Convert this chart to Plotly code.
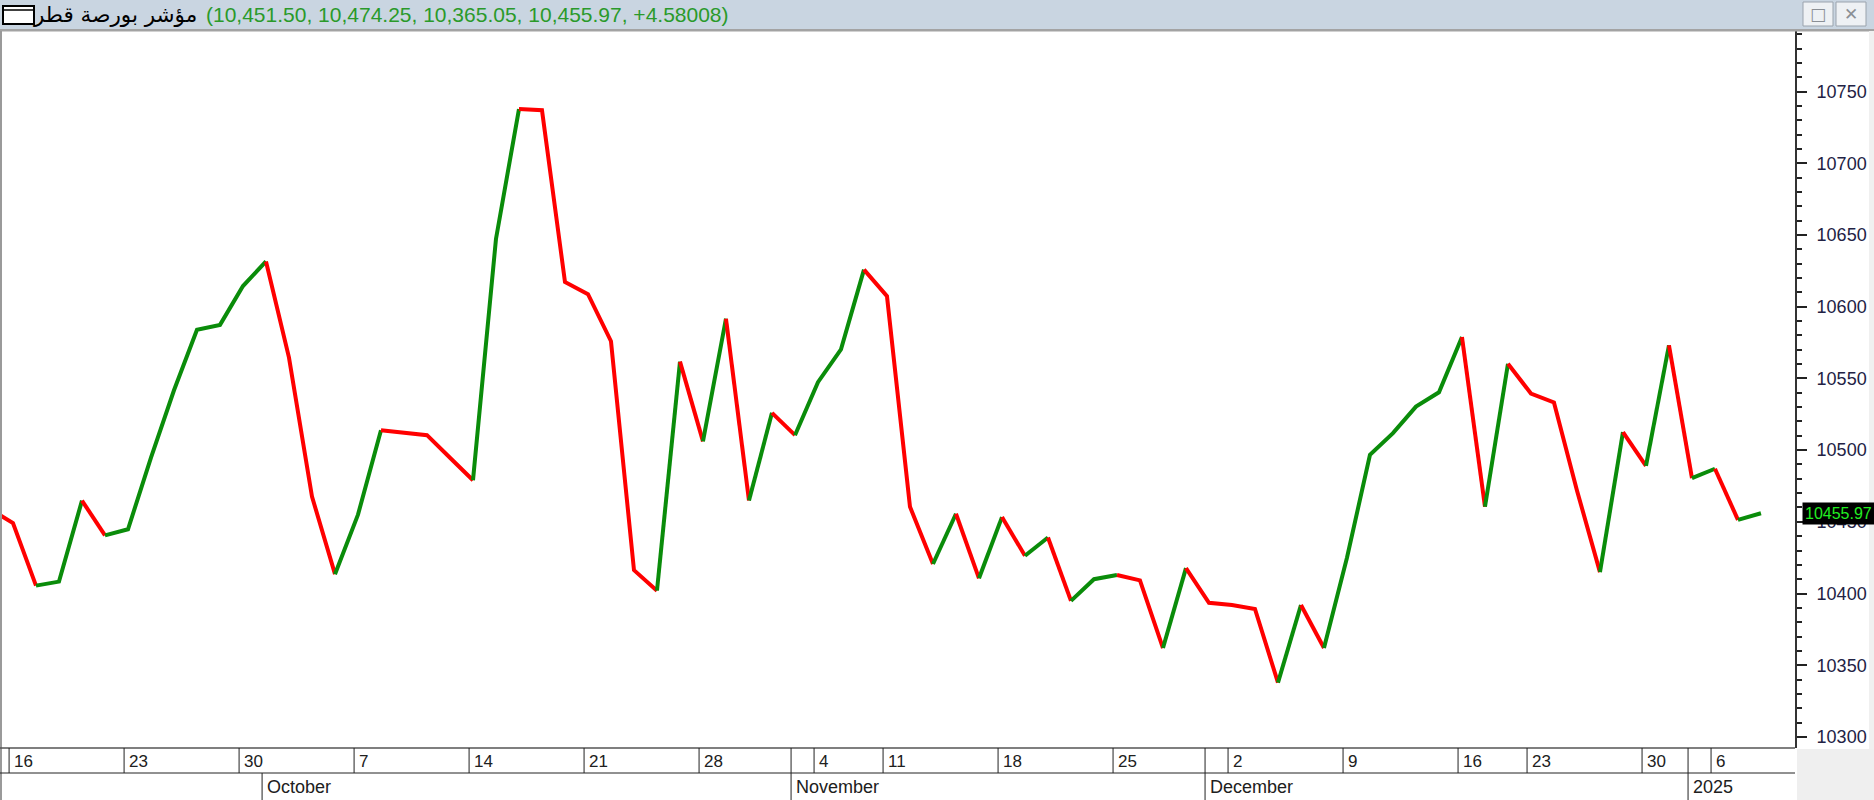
import datetime as dt
import plotly.graph_objects as go

# ---------------- data ----------------
dates = [
    "2024-09-15", "2024-09-16", "2024-09-17", "2024-09-18", "2024-09-19",
    "2024-09-22", "2024-09-23", "2024-09-24", "2024-09-25", "2024-09-26",
    "2024-09-29", "2024-09-30", "2024-10-01", "2024-10-02", "2024-10-03",
    "2024-10-06", "2024-10-07", "2024-10-08", "2024-10-09", "2024-10-10",
    "2024-10-13", "2024-10-14", "2024-10-15", "2024-10-16", "2024-10-17",
    "2024-10-20", "2024-10-21", "2024-10-22", "2024-10-23", "2024-10-24",
    "2024-10-27", "2024-10-28", "2024-10-29", "2024-10-30", "2024-10-31",
    "2024-11-03", "2024-11-04", "2024-11-05", "2024-11-06",
    "2024-11-11", "2024-11-12", "2024-11-13", "2024-11-14",
    "2024-11-17", "2024-11-18", "2024-11-19", "2024-11-20", "2024-11-21",
    "2024-11-24", "2024-11-25", "2024-11-26", "2024-11-27", "2024-11-28",
    "2024-12-01", "2024-12-02", "2024-12-03", "2024-12-04", "2024-12-05",
    "2024-12-08", "2024-12-09", "2024-12-10", "2024-12-11", "2024-12-12",
    "2024-12-15", "2024-12-16", "2024-12-17",
    "2024-12-22", "2024-12-23", "2024-12-24", "2024-12-25", "2024-12-26",
    "2024-12-29", "2024-12-30", "2024-12-31",
    "2025-01-05", "2025-01-06", "2025-01-07", "2025-01-08",
]
closes = [
    10459.0, 10449.1, 10405.5, 10408.3, 10464.8,
    10440.5, 10444.8, 10494.7, 10541.7, 10583.9,
    10587.3, 10614.4, 10631.5, 10564.5, 10467.6,
    10413.5, 10455.0, 10513.8, 10511.8, 10510.4,
    10494.7, 10479.0, 10647.2, 10737.8, 10737.0,
    10617.2, 10608.7, 10575.9, 10416.3, 10402.0,
    10561.7, 10506.1, 10591.6, 10464.8, 10526.0,
    10510.4, 10547.4, 10570.2, 10625.8,
    10607.3, 10460.5, 10420.6, 10455.6,
    10410.6, 10453.3, 10426.3, 10439.1, 10394.9,
    10410.0, 10412.9, 10409.2, 10362.0, 10417.7,
    10393.5, 10392.0, 10389.2, 10337.9, 10392.0,
    10362.0, 10424.9, 10496.7, 10511.8, 10530.3,
    10540.3, 10578.8, 10460.5,
    10560.2, 10539.4, 10533.2, 10471.9, 10414.9,
    10512.6, 10489.0, 10573.1,
    10480.4, 10487.0, 10451.39, 10455.97,
]
title_name = "مؤشر بورصة قطر"
title_values = "(10,451.50, 10,474.25, 10,365.05, 10,455.97, +4.58008)"
y_ticks = [10300, 10350, 10400, 10450, 10500, 10550, 10600, 10650, 10700, 10750]
month_names = ["January", "February", "March", "April", "May", "June", "July",
               "August", "September", "October", "November", "December"]

# ---------------- geometry / style ----------------
FW, FH = 1874, 800
L, R, T, B = 2, 79, 31, 52
W, H = FW - L - R, FH - T - B
X_RANGE = [0.522, 78.48]
Y_RANGE = [10292.3, 10792.2]
GREEN = "#0a8c0a"
RED = "#ff0000"
SEP = -0.17  # separator offset (bars)


def xp(px):
    return (px - L) / W


def yp(py):
    return (FH - B - py) / H


d = [dt.date.fromisoformat(s) for s in dates]
idx = list(range(len(d)))

fig = go.Figure()

# colored runs of the close line (green = up, red = down)
runs = []
cur = None
for i in range(1, len(closes)):
    col = GREEN if closes[i] >= closes[i - 1] else RED
    if cur is None or cur["c"] != col:
        cur = {"c": col, "i": [i - 1, i]}
        runs.append(cur)
    else:
        cur["i"].append(i)
for r in runs:
    fig.add_trace(go.Scatter(
        x=[idx[k] for k in r["i"]], y=[closes[k] for k in r["i"]],
        mode="lines", line=dict(color=r["c"], width=4),
        hoverinfo="skip", showlegend=False))

shapes = []
annotations = []

# ---- chrome ----
shapes.append(dict(type="rect", xref="paper", yref="paper", x0=xp(0), x1=xp(FW),
                   y0=yp(0), y1=yp(29), fillcolor="#c9d5e1", line=dict(width=0), layer="below"))
shapes.append(dict(type="rect", xref="paper", yref="paper", x0=xp(0), x1=xp(FW),
                   y0=yp(29), y1=yp(31.5), fillcolor="#a3a3a3", line=dict(width=0)))
shapes.append(dict(type="rect", xref="paper", yref="paper", x0=xp(0), x1=xp(2),
                   y0=yp(31), y1=yp(FH), fillcolor="#9a9a9a", line=dict(width=0)))
shapes.append(dict(type="rect", xref="paper", yref="paper", x0=xp(1869), x1=xp(FW),
                   y0=yp(31), y1=yp(749), fillcolor="#f0f0f0", line=dict(width=0)))
shapes.append(dict(type="rect", xref="paper", yref="paper", x0=xp(1797), x1=xp(FW),
                   y0=yp(749), y1=yp(FH), fillcolor="#efefef", line=dict(width=0)))
# window icon
shapes.append(dict(type="rect", xref="paper", yref="paper", x0=xp(3), x1=xp(34),
                   y0=yp(6), y1=yp(24), fillcolor="white", line=dict(color="black", width=2)))
shapes.append(dict(type="line", xref="paper", yref="paper", x0=xp(3), x1=xp(34),
                   y0=yp(10), y1=yp(10), line=dict(color="black", width=1.5)))
# buttons
for bx0, glyph in [(1803, "□"), (1836, "✕")]:
    shapes.append(dict(type="rect", xref="paper", yref="paper", x0=xp(bx0), x1=xp(bx0 + 30),
                       y0=yp(2), y1=yp(26), fillcolor="#eef1f4", line=dict(color="#9aa3ad", width=1)))
    annotations.append(dict(xref="paper", yref="paper", x=xp(bx0 + 15), y=yp(14), text=glyph,
                            showarrow=False, font=dict(size=17, color="#8a8f95", family="DejaVu Sans"),
                            xanchor="center", yanchor="middle"))
# title texts
annotations.append(dict(xref="paper", yref="paper", x=xp(199), y=yp(14), text=title_name,
                        showarrow=False, xanchor="right", yanchor="middle",
                        font=dict(size=21.5, color="black", family="DejaVu Sans")))
annotations.append(dict(xref="paper", yref="paper", x=xp(204), y=yp(14), text=title_values,
                        showarrow=False, xanchor="left", yanchor="middle",
                        font=dict(size=21, color="#2a9a2a", family="Liberation Sans")))

# ---- date axis rows ----
ROW1_TOP, ROW1_BOT, ROW2_BOT = 748, 773, FH
shapes.append(dict(type="line", xref="paper", yref="paper", x0=xp(0), x1=xp(1795),
                   y0=yp(ROW1_TOP), y1=yp(ROW1_TOP), line=dict(color="#555555", width=1.5)))
shapes.append(dict(type="line", xref="paper", yref="paper", x0=xp(0), x1=xp(1795),
                   y0=yp(ROW1_BOT), y1=yp(ROW1_BOT), line=dict(color="#222222", width=1)))

for i in range(1, len(d)):
    new_week = d[i].isocalendar()[:2] != d[i - 1].isocalendar()[:2]
    new_month = d[i].month != d[i - 1].month
    if new_week:
        monday = d[i] - dt.timedelta(days=d[i].weekday())
        shapes.append(dict(type="line", xref="x", yref="paper", x0=i + SEP, x1=i + SEP,
                           y0=yp(ROW1_TOP), y1=yp(ROW1_BOT), line=dict(color="#222222", width=1)))
        annotations.append(dict(xref="x", yref="paper", x=i + SEP, y=yp(761), xshift=3,
                                text=str(monday.day), showarrow=False, xanchor="left",
                                yanchor="middle",
                                font=dict(size=17, color="#202020", family="Liberation Sans")))
    if new_month:
        top = ROW1_TOP if d[i].isoweekday() == 7 else ROW1_BOT
        shapes.append(dict(type="line", xref="x", yref="paper", x0=i + SEP, x1=i + SEP,
                           y0=yp(top), y1=yp(ROW2_BOT), line=dict(color="#222222", width=1)))
        label = str(d[i].year) if d[i].month == 1 else month_names[d[i].month - 1]
        annotations.append(dict(xref="x", yref="paper", x=i + SEP, y=yp(787), xshift=3,
                                text=label, showarrow=False, xanchor="left", yanchor="middle",
                                font=dict(size=18, color="#202020", family="Liberation Sans")))

# last price marker
annotations.append(dict(xref="paper", yref="y", x=xp(1802), y=closes[-1],
                        text=f"{closes[-1]:.2f}", showarrow=False, xanchor="left",
                        yanchor="middle", bgcolor="black", borderpad=2,
                        font=dict(size=16, color="#22ee22", family="Liberation Sans")))

fig.update_layout(
    width=FW, height=FH, autosize=False,
    margin=dict(l=L, r=R, t=T, b=B, pad=0),
    paper_bgcolor="white", plot_bgcolor="white",
    showlegend=False,
    shapes=shapes, annotations=annotations,
    xaxis=dict(range=X_RANGE, visible=False, fixedrange=True),
    yaxis=dict(range=Y_RANGE, side="right", tickvals=y_ticks, tickformat="d",
               ticks="outside", ticklen=10, tickwidth=1.5, tickcolor="#222222",
               showline=True, linecolor="#333333", linewidth=2,
               showgrid=False, zeroline=False, ticklabelstandoff=6,
               tickfont=dict(size=18, color="#222244", family="Liberation Sans"),
               minor=dict(dtick=10, tick0=10300, ticks="outside", ticklen=5,
                          tickwidth=1.5, tickcolor="#222222", showgrid=False),
               fixedrange=True),
)

fig.write_html("out.html", config={"displayModeBar": False},
               post_script="document.body.style.margin='0';document.body.style.overflow='hidden';")
